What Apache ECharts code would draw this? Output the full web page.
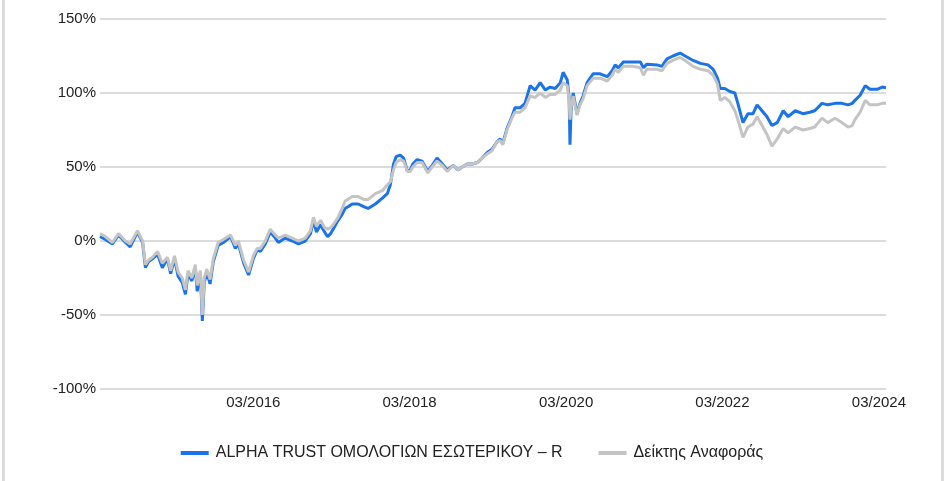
<!DOCTYPE html>
<html>
<head>
<meta charset="utf-8">
<title>ALPHA TRUST ΟΜΟΛΟΓΙΩΝ ΕΣΩΤΕΡΙΚΟΥ</title>
<script src="https://cdn.jsdelivr.net/npm/echarts@6/dist/echarts.min.js"></script>
<style>
  html, body {
    margin: 0;
    padding: 0;
    background: #fff;
  }
  #frame {
    position: absolute;
    left: 2px;
    top: 0;
    width: 936px;
    height: 481px;
    border-left: 3px solid #dcdcdc;
    border-right: 3px solid #dcdcdc;
  }
  #chart {
    position: absolute;
    left: 0;
    top: 0;
    width: 944px;
    height: 481px;
  }
</style>
</head>
<body>
<div id="frame"></div>
<div id="chart"></div>
<script>
// series names (legend)
const seriesNames = ['ALPHA TRUST ΟΜΟΛΟΓΙΩΝ ΕΣΩΤΕΡΙΚΟΥ – R', 'Δείκτης Αναφοράς'];

// x tick labels (MM/YYYY)
const tickDates = ['2016-03-01', '2018-03-01', '2020-03-01', '2022-03-01', '2024-03-01'];

// y ticks (%)
const yTicks = [-100, -50, 0, 50, 100, 150];

// sample dates
const dates = [
  '2014-03-16', '2014-04-10', '2014-05-13', '2014-06-10', '2014-07-13', '2014-08-04', '2014-09-07', '2014-10-01', '2014-10-14', '2014-10-28', '2014-11-16', '2014-12-10',
  '2015-01-01', '2015-01-25', '2015-02-09', '2015-02-27', '2015-03-16', '2015-04-04', '2015-04-19', '2015-05-01', '2015-05-19', '2015-06-04', '2015-06-13', '2015-06-28', '2015-07-07', '2015-07-16', '2015-07-28', '2015-08-12', '2015-08-27', '2015-09-19', '2015-10-13', '2015-11-16', '2015-12-08', '2015-12-22',
  '2016-01-16', '2016-02-08', '2016-03-01', '2016-03-19', '2016-04-03', '2016-04-26', '2016-05-19', '2016-06-12', '2016-06-26', '2016-07-28', '2016-08-30', '2016-09-28', '2016-10-30', '2016-11-23', '2016-12-07', '2016-12-21',
  '2017-01-09', '2017-01-28', '2017-02-11', '2017-02-25', '2017-03-09', '2017-04-01', '2017-04-20', '2017-05-04', '2017-06-06', '2017-07-04', '2017-08-01', '2017-08-19', '2017-09-22', '2017-10-25', '2017-11-17', '2017-12-01', '2017-12-16', '2017-12-28',
  '2018-01-16', '2018-02-01', '2018-02-19', '2018-03-04', '2018-03-16', '2018-04-05', '2018-04-28', '2018-05-25', '2018-06-14', '2018-07-07', '2018-08-01', '2018-08-24', '2018-09-21', '2018-10-13', '2018-11-02', '2018-11-25', '2018-12-19',
  '2019-01-11', '2019-02-03', '2019-02-28', '2019-03-21', '2019-04-13', '2019-04-28', '2019-05-10', '2019-05-30', '2019-06-22', '2019-07-06', '2019-07-30', '2019-08-22', '2019-09-15', '2019-10-08', '2019-11-01', '2019-11-25', '2019-12-17',
  '2020-01-10', '2020-02-03', '2020-02-16', '2020-03-06', '2020-03-15', '2020-03-19', '2020-03-24', '2020-04-03', '2020-04-21', '2020-05-05', '2020-05-19', '2020-06-07', '2020-07-05', '2020-08-07', '2020-09-09', '2020-10-02', '2020-10-16', '2020-10-31', '2020-11-23',
  '2021-01-08', '2021-02-11', '2021-02-25', '2021-03-13', '2021-04-30', '2021-05-22', '2021-06-15', '2021-07-13', '2021-08-15', '2021-09-08', '2021-10-15', '2021-11-18', '2021-12-24',
  '2022-01-17', '2022-02-06', '2022-02-19', '2022-03-12', '2022-04-05', '2022-04-28', '2022-05-12', '2022-06-05', '2022-06-28', '2022-07-22', '2022-08-10', '2022-09-02', '2022-09-25', '2022-10-18', '2022-11-12', '2022-12-10',
  '2023-01-02', '2023-02-04', '2023-03-12', '2023-04-13', '2023-05-06', '2023-06-09', '2023-07-06', '2023-08-09', '2023-09-10', '2023-10-09', '2023-10-28', '2023-11-10', '2023-12-04', '2023-12-28',
  '2024-01-19', '2024-02-21', '2024-03-16', '2024-04-03'
];

// fund cumulative return (%)
const fundValues = [
  3, 1, -2, 4, -1, -4, 6, -1, -18, -14, -12, -9,
  -18, -12, -22, -12, -24, -28, -36, -22, -27, -18, -34, -22, -54, -28, -21, -29, -14, -3, -1, 3, -5, -2,
  -15, -23, -12, -6, -7, -2, 6, 2, -1, 2, 0, -2, 0, 5, 14, 6,
  11, 6, 3, 5, 8, 14, 18, 22, 25, 25, 23, 22, 25, 29, 32, 38, 52, 57,
  58, 56, 47, 48, 52, 55, 54, 47, 51, 56, 52, 48, 51, 48, 50, 52, 52,
  53, 56, 60, 62, 67, 69, 66, 76, 84, 90, 90, 93, 105, 102, 107, 102, 104,
  103, 107, 114, 109, 97, 65, 88, 100, 86, 93, 98, 107, 113, 113, 111, 115, 119, 117, 121,
  121, 121, 117, 119.5, 119, 118, 123, 125, 127, 125, 122, 120, 119,
  116, 110, 103, 103, 101, 100, 93, 80, 86, 86, 92, 88, 84, 78, 80, 88,
  84, 88, 86, 87, 88, 93, 92, 93, 93, 92, 93, 95, 98.5, 105,
  102.5, 102.5, 104, 103.5
];

// benchmark cumulative return (%)
const benchmarkValues = [
  5, 3, -1, 5, 0, -2, 7, 0, -16, -13, -11, -7,
  -15, -11, -20, -10, -21, -25, -33, -20, -25, -16, -30, -20, -50, -25, -19, -26, -12, -1, 1, 4, -3, 0,
  -13, -21, -10, -5, -5, 0, 8, 4, 2, 4, 2, 0, 2, 7, 16, 10,
  14, 9, 8, 9, 11, 16, 22, 27, 30, 30, 28, 28, 32, 34, 38, 40, 48, 53,
  55, 54, 47, 47, 50, 53, 53, 46, 50, 54, 51, 47, 51, 48, 50, 52, 52,
  53, 56, 59, 61, 67, 68, 65, 75, 83, 87, 87, 90, 98, 97, 100, 97, 99,
  99, 102, 107, 105, 96, 82, 90, 98, 85, 92, 96, 105, 110, 110, 108, 112, 116, 114, 118,
  118, 117, 112, 116, 116, 115, 120, 122, 124, 122, 118, 116, 115,
  112, 106, 95, 97, 94, 88, 82, 70, 77, 79, 84, 78, 72, 64, 69, 76,
  73, 77, 75, 76, 77, 83, 80, 83, 80, 77, 78, 82, 87, 95,
  92, 92, 93, 93
];

function toTime(s) {
  const p = s.split('-');
  return new Date(+p[0], +p[1] - 1, +p[2]).getTime();
}

function drawChart() {
  let chart = echarts.init(document.getElementById('chart'));
  let fontFamily = '"Liberation Sans", Arial, sans-serif';
  let option = {
    animation: false,
    color: ['#1a73e8', '#c4c4c4'],
    textStyle: {
      fontFamily: fontFamily
    },
    grid: {
      left: 100,
      right: 58,
      top: 19,
      bottom: 92
    },
    legend: {
      top: 440,
      left: 'center',
      icon: 'rect',
      itemWidth: 28,
      itemHeight: 4,
      itemGap: 36,
      textStyle: {
        fontSize: 16,
        color: '#222',
        padding: [0, 0, 0, 2],
        fontFamily: fontFamily
      },
      data: seriesNames
    },
    xAxis: {
      // timestamps on a plain value axis, so the ticks can sit on given dates
      type: 'value',
      min: toTime(dates[0]),
      max: toTime(dates[dates.length - 1]),
      axisLine: { show: false },
      axisTick: { show: false },
      splitLine: { show: false },
      axisLabel: {
        customValues: tickDates.map(toTime),
        margin: 6,
        fontSize: 15,
        color: '#222',
        fontFamily: fontFamily,
        formatter: function (v) {
          let d = new Date(v);
          let m = d.getMonth() + 1;
          return (m < 10 ? '0' + m : m) + '/' + d.getFullYear();
        }
      }
    },
    yAxis: {
      type: 'value',
      min: yTicks[0],
      max: yTicks[yTicks.length - 1],
      interval: 50,
      axisLine: { show: false },
      axisTick: { show: false },
      axisLabel: {
        margin: 4,
        fontSize: 15,
        color: '#222',
        fontFamily: fontFamily,
        formatter: '{value}%'
      },
      splitLine: {
        show: true,
        lineStyle: {
          width: 2,
          color: '#dcdcdc'
        }
      }
    },
    series: [
      {
        name: seriesNames[0],
        type: 'line',
        showSymbol: false,
        lineStyle: { width: 3 },
        data: dates.map((d, i) => [toTime(d), fundValues[i]])
      },
      {
        name: seriesNames[1],
        type: 'line',
        showSymbol: false,
        lineStyle: { width: 3 },
        data: dates.map((d, i) => [toTime(d), benchmarkValues[i]])
      }
    ]
  };
  chart.setOption(option);
  window.addEventListener('resize', function () {
    chart.resize();
  });
}

drawChart();
</script>
</body>
</html>
